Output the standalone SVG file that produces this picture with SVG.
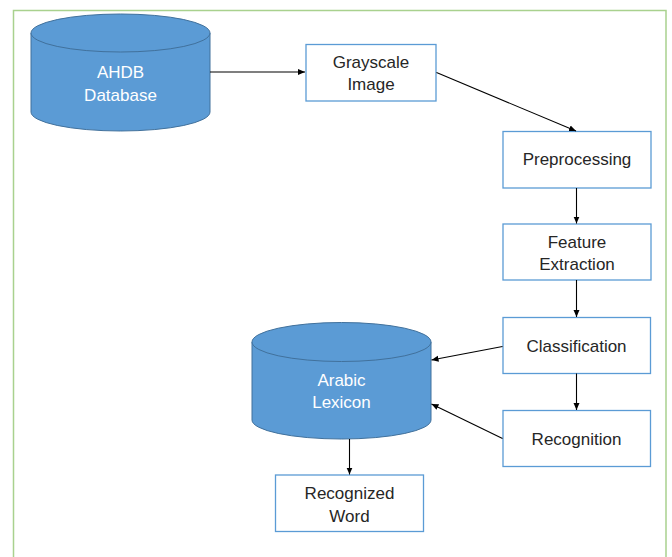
<svg xmlns="http://www.w3.org/2000/svg" width="672" height="557" viewBox="0 0 672 557">
<style>
.box{fill:#ffffff;stroke:#5B9BD5;stroke-width:1.3}
.cyl{fill:#5B9BD5;stroke:#41719C;stroke-width:1}
.t{font-family:"Liberation Sans",Arial,sans-serif;font-size:17px;fill:#262626;text-anchor:middle}
.tw{font-family:"Liberation Sans",Arial,sans-serif;font-size:17px;fill:#FFFFFF;text-anchor:middle}
.c{stroke:#000;stroke-width:1.1;fill:none;marker-end:url(#ah)}
</style>
<defs>
<marker id="ah" markerWidth="8" markerHeight="8" refX="7" refY="4" orient="auto" markerUnits="userSpaceOnUse">
<path d="M0,1 L7,4 L0,7 Z" fill="#000"/>
</marker>
</defs>
<rect x="0" y="0" width="672" height="557" fill="#ffffff"/>
<path d="M13.5,557 L13.5,10.5 L666,10.5 L666,557" fill="none" stroke="#A9D18E" stroke-width="1.5"/>
<g id="ahdb">
<path class="cyl" d="M31,33 L31,112 A89.5,19 0 0 0 210,112 L210,33"/>
<ellipse class="cyl" cx="120.5" cy="33" rx="89.5" ry="19"/>
<text class="tw" x="120.5" y="78">AHDB</text>
<text class="tw" x="120.5" y="101">Database</text>
</g>
<g id="grayscale">
<rect class="box" x="306" y="44.5" width="130" height="56.5"/>
<text class="t" x="371" y="68">Grayscale</text>
<text class="t" x="371" y="90">Image</text>
</g>
<g id="preprocessing">
<rect class="box" x="503" y="131.5" width="148" height="56.5"/>
<text class="t" x="577" y="165">Preprocessing</text>
</g>
<g id="feature">
<rect class="box" x="503" y="224" width="148" height="56"/>
<text class="t" x="577" y="247.5">Feature</text>
<text class="t" x="577" y="270">Extraction</text>
</g>
<g id="classification">
<rect class="box" x="503" y="317.5" width="147.5" height="56"/>
<text class="t" x="576.5" y="352">Classification</text>
</g>
<g id="recognition">
<rect class="box" x="503" y="410.5" width="147.5" height="56"/>
<text class="t" x="576.5" y="445">Recognition</text>
</g>
<g id="lexicon">
<path class="cyl" d="M252,342 L252,420 A89.5,19 0 0 0 431,420 L431,342"/>
<ellipse class="cyl" cx="341.5" cy="342" rx="89.5" ry="19.5"/>
<text class="tw" x="341.5" y="386">Arabic</text>
<text class="tw" x="341.5" y="408">Lexicon</text>
</g>
<g id="recognized">
<rect class="box" x="275.5" y="475" width="148" height="56.5"/>
<text class="t" x="349.5" y="499">Recognized</text>
<text class="t" x="349.5" y="521.5">Word</text>
</g>
<g id="connectors">
<line class="c" x1="210" y1="72" x2="305" y2="72"/>
<line class="c" x1="436.5" y1="72.5" x2="576" y2="131"/>
<line class="c" x1="576.5" y1="188" x2="576.5" y2="223.5"/>
<line class="c" x1="576.5" y1="280" x2="576.5" y2="317"/>
<line class="c" x1="576.5" y1="373.5" x2="576.5" y2="410"/>
<line class="c" x1="502.5" y1="346.5" x2="431.5" y2="360"/>
<line class="c" x1="502.5" y1="438.5" x2="431.5" y2="404"/>
<line class="c" x1="349.5" y1="439" x2="349.5" y2="474.5"/>
</g>
</svg>
